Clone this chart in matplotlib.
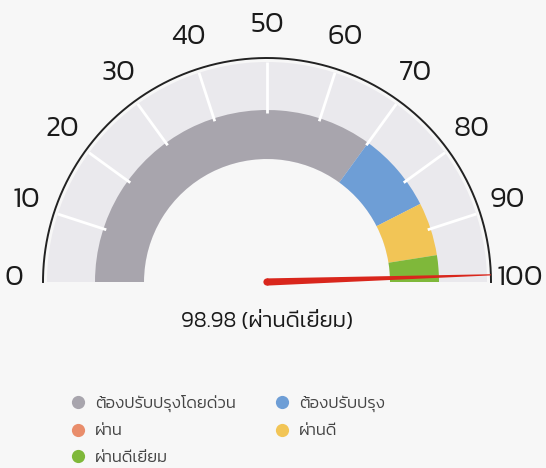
import numpy as np
import matplotlib
matplotlib.use("Agg")
import matplotlib.pyplot as plt
from matplotlib.patches import Wedge, Polygon, Circle
from matplotlib.lines import Line2D

plt.rcParams['font.family'] = ['Kanit', 'DejaVu Sans']
plt.rcParams['font.weight'] = 300

# data
band_names = ["ต้องปรับปรุงโดยด่วน", "ต้องปรับปรุง", "ผ่าน", "ผ่านดี", "ผ่านดีเยี่ยม"]
band_start = [0, 70, 85, 85, 95]
band_end = [70, 85, 85, 95, 100]
band_colors = ["#a8a5ad", "#6e9ed6", "#e98d6b", "#f2c556", "#7fb83a"]
tick_values = [0, 10, 20, 30, 40, 50, 60, 70, 80, 90, 100]
score = 98.98
score_label = "ผ่านดีเยี่ยม"

R_ARC = 224
R_BG = 220
R_OUT = 172
R_IN = 123
R_LAB = 253


def ang(v):
    # value 0..100 -> degrees, 180 at 0, 0 at 100
    return 180 - v / 100 * 180


fig = plt.figure(figsize=(5.46, 4.68), dpi=100)
fig.patch.set_facecolor("#f7f7f7")
ax = fig.add_axes([0, 0, 1, 1])
ax.set_xlim(-267, 279)
ax.set_ylim(-186, 282)
ax.set_aspect("equal")
ax.axis("off")

# light background band
ax.add_patch(Wedge((0, 0), R_BG, 0, 180, width=R_BG - R_IN, facecolor="#eae9ed", edgecolor="none"))

# coloured bands
for s, e, c in zip(band_start, band_end, band_colors):
    if e > s:
        ax.add_patch(Wedge((0, 0), R_OUT, ang(e), ang(s), width=R_OUT - R_IN, facecolor=c, edgecolor="none"))

# white ticks
for v in tick_values[1:-1]:
    a = np.radians(ang(v))
    ax.plot([169 * np.cos(a), R_BG * np.cos(a)], [169 * np.sin(a), R_BG * np.sin(a)],
            color="white", lw=2, solid_capstyle="butt")

# outer arc
t = np.linspace(0, np.pi, 300)
ax.plot(R_ARC * np.cos(t), R_ARC * np.sin(t), color="#222222", lw=1.4)

# tick labels
for v in tick_values:
    a = np.radians(ang(v))
    ax.text(R_LAB * np.cos(a), R_LAB * np.sin(a) + 4, str(v), ha="center", va="center",
            fontsize=21, color="#1a1a1a")

# needle
a = np.radians(ang(score))
ux, uy = np.cos(a), np.sin(a)
px, py = -uy, ux
w0, w1 = 3.6, 0.6
pts = [(px * w0, py * w0), (R_ARC * ux + px * w1, R_ARC * uy + py * w1),
       (R_ARC * ux - px * w1, R_ARC * uy - py * w1), (-px * w0, -py * w0)]
ax.add_patch(Polygon(pts, closed=True, facecolor="#d9261c", edgecolor="none", zorder=5))
ax.add_patch(Circle((0, 0), w0, facecolor="#d9261c", edgecolor="none", zorder=5))

ax.text(0, -39, "%.2f (%s)" % (score, score_label), ha="center", va="center",
        fontsize=16, color="#1a1a1a")

# legend
order = [0, 2, 4, 1, 3]
handles = [Line2D([], [], marker="o", ls="none", markersize=9.5, markerfacecolor=band_colors[i],
                  markeredgecolor="none", label=band_names[i]) for i in order]
leg = ax.legend(handles=handles, ncol=2, loc="upper left", bbox_to_anchor=(0.10, 0.189),
                frameon=False, fontsize=12, handlelength=1.0, handletextpad=0.52,
                columnspacing=2.3, labelspacing=0.72, labelcolor="#444444")

fig.savefig("out.png", facecolor=fig.get_facecolor())
